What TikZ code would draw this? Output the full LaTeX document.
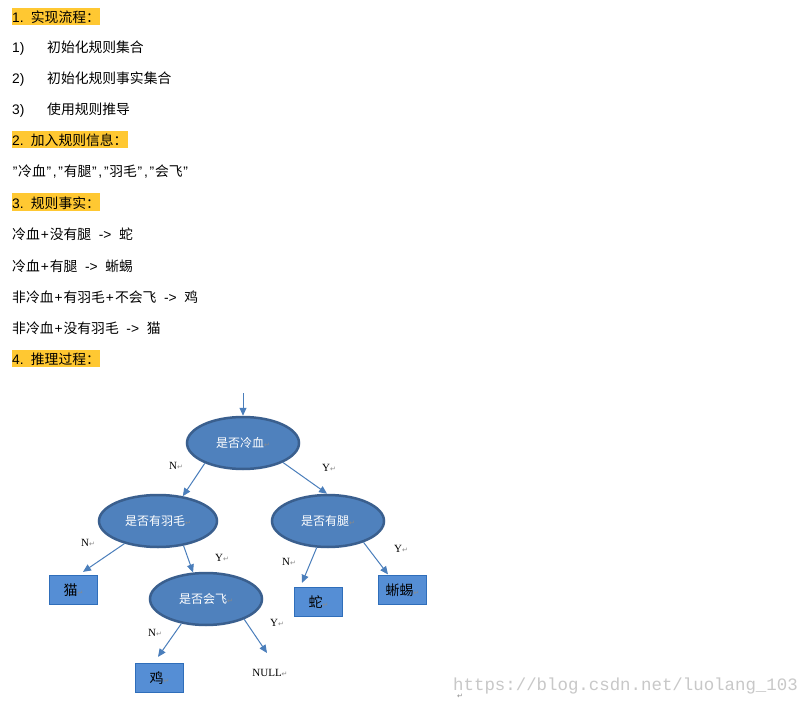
\documentclass[tikz,border=0pt]{standalone}
\usepackage{fontspec}
\setmainfont{Noto Sans CJK SC}
\newfontfamily\lat{Liberation Sans}
\newfontfamily\tms{Liberation Serif}
\newfontfamily\djv{DejaVu Sans}
\newfontfamily\mono{Liberation Mono}
\usetikzlibrary{arrows.meta,shapes.geometric}
\definecolor{hlc}{HTML}{FFC832}
\definecolor{ellfill}{HTML}{4F81BD}
\definecolor{elldraw}{HTML}{3A5F8E}
\definecolor{boxfill}{HTML}{558ED5}
\definecolor{boxdraw}{HTML}{2F6EBA}
\definecolor{arrc}{HTML}{4A7EBB}
\definecolor{retc}{HTML}{8A8A8A}
\definecolor{wmc}{HTML}{C8C8C8}
\newcommand\rmk{{\djv\fontsize{7}{7}\selectfont\color{retc}↵}}
\newcommand\q{\makebox[6pt]{\lat ”}}
\newcommand\cm{\makebox[6pt]{\lat ,}}
\newcommand\pl{\makebox[10pt]{\lat +}}
\newcommand\ar{\makebox[28pt]{\lat ->}}
\newcommand\hn[1]{\makebox[18.7pt][l]{\lat #1.}}
\begin{document}
\begin{tikzpicture}[x=1pt,y=-1pt,
  txt/.style={anchor=west, inner sep=0pt, text height=13pt, text depth=1pt, font=\fontsize{13.8}{15}\selectfont},
  hl/.style={anchor=west, inner xsep=0pt, inner ysep=0pt, fill=hlc, minimum height=17pt, text height=13pt, text depth=1pt, font=\fontsize{13.8}{15}\selectfont},
  ell/.style={ellipse, draw=elldraw, fill=ellfill, line width=2.5pt, minimum width=112pt, minimum height=52pt, inner sep=0pt, text=white, font=\fontsize{12}{12}\selectfont},
  boxn/.style={rectangle, draw=boxdraw, fill=boxfill, line width=1.2pt, minimum width=48pt, minimum height=29pt, inner sep=0pt, font=\fontsize{14}{14}\selectfont},
  lab/.style={inner sep=0pt, font=\tms\fontsize{11}{11}\selectfont},
  arr/.style={draw=arrc, line width=1pt, -{Triangle[length=8pt,width=7pt]}}
]
\useasboundingbox (0,0) rectangle (809,706);
\fill[white] (0,0) rectangle (809,706);

% text section
\node[hl] (h1) at (12,17) {\hn{1}实现流程：};
\node[txt] (n1) at (12,47) {\lat 1)};
\node[txt] (t1) at (47,47) {初始化规则集合};
\node[txt] (n2) at (12,78) {\lat 2)};
\node[txt] (t2) at (47,78) {初始化规则事实集合};
\node[txt] (n3) at (12,109) {\lat 3)};
\node[txt] (t3) at (47,109) {使用规则推导};
\node[hl] (h2) at (12,140) {\hn{2}加入规则信息：};
\node[txt] (qt) at (12,171) {\q 冷血\q\cm\q 有腿\q\cm\q 羽毛\q\cm\q 会飞\q};
\node[hl] (h3) at (12,202) {\hn{3}规则事实：};
\node[txt] (r1) at (12,234) {冷血\pl 没有腿\ar 蛇};
\node[txt] (r2) at (12,265) {冷血\pl 有腿\ar 蜥蜴};
\node[txt] (r3) at (12,296) {非冷血\pl 有羽毛\pl 不会飞\ar 鸡};
\node[txt] (r4) at (12,327) {非冷血\pl 没有羽毛\ar 猫};
\node[hl] (h4) at (12,358) {\hn{4}推理过程：};

% diagram
\coordinate (start) at (243,393);
\node[ell] (lx) at (243,443) {是否冷血\rmk};
\node[ell, minimum width=118pt] (ym) at (158,521) {是否有羽毛\rmk};
\node[ell] (yt) at (328,521) {是否有腿\rmk};
\node[ell] (hf) at (206,599) {是否会飞\rmk};
\node[boxn] (mao) at (73.5,590) {猫\rmk};
\node[boxn] (she) at (318.5,602) {蛇\rmk};
\node[boxn] (xiyi) at (402.5,590) {蜥蜴\rmk};
\node[boxn] (ji) at (159.5,678) {鸡\rmk};
\node[lab] (null) at (270,673) {NULL\rmk};

\draw[arr] (start) -- (lx.north);
\draw[arr] (lx.208) -- (ym.45);
\draw[arr] (lx.334) -- (yt.92);
\draw[arr] (ym.214) -- ([xshift=9.5pt,yshift=3pt]mao.north);
\draw[arr] (ym.316) -- (hf.116);
\draw[arr] (hf.225) -- ([xshift=-1.5pt,yshift=6pt]ji.north);
\draw[arr] (hf.332) -- ([xshift=-3pt,yshift=20pt]null.center);
\draw[arr] (yt.247) -- ([xshift=-16.5pt,yshift=4pt]she.north);
\draw[arr] (yt.329) -- ([xshift=-14.5pt,yshift=0.5pt]xiyi.north);

\node[lab] (l1) at (176,466) {N\rmk};
\node[lab] (l2) at (329,468) {Y\rmk};
\node[lab] (l3) at (88,543) {N\rmk};
\node[lab] (l4) at (222,558) {Y\rmk};
\node[lab] (l5) at (155,633) {N\rmk};
\node[lab] (l6) at (277,623) {Y\rmk};
\node[lab] (l7) at (289,562) {N\rmk};
\node[lab] (l8) at (401,549) {Y\rmk};

% watermark
\node[anchor=west, inner sep=0pt, text=wmc, font=\mono\fontsize{17.4}{18}\selectfont] (wm) at (453,686) {https://blog.csdn.net/luolang\_103};
\node[inner sep=0pt] (wmr) at (460,696) {\rmk};
\end{tikzpicture}
\end{document}
